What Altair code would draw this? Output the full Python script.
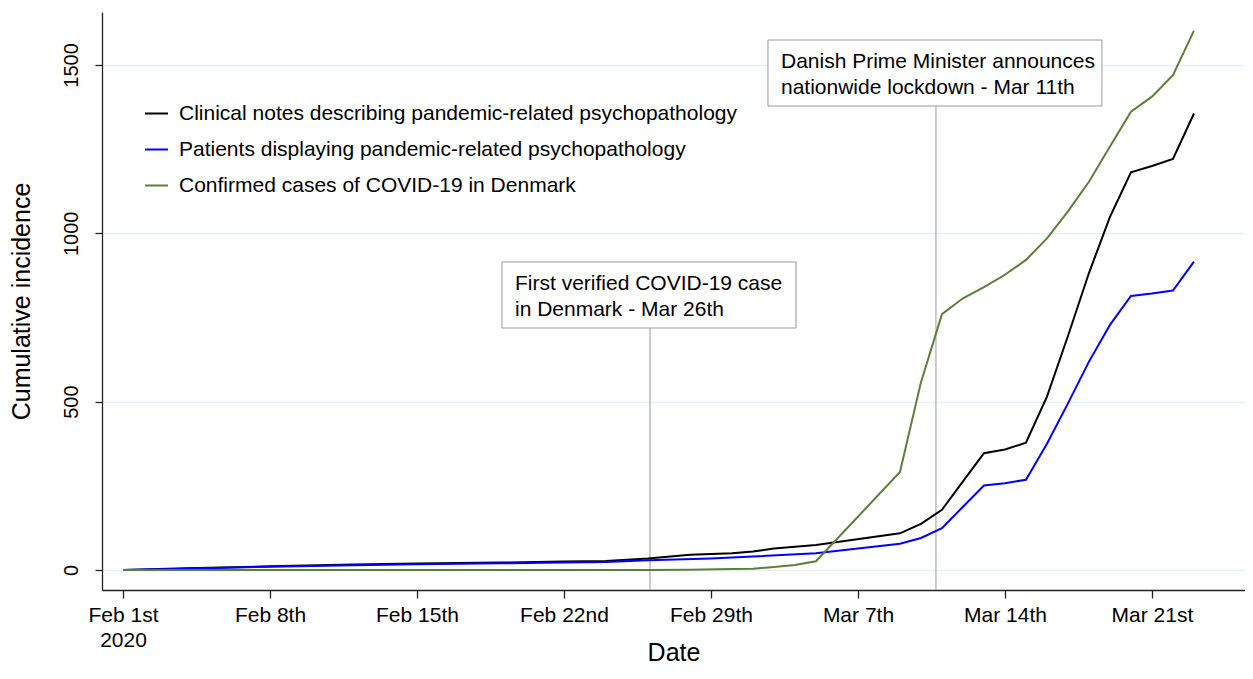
import altair as alt
import pandas as pd

FONT = "Liberation Sans"

series_names = [
    "Clinical notes describing pandemic-related psychopathology",
    "Patients displaying pandemic-related psychopathology",
    "Confirmed cases of COVID-19 in Denmark",
]
series_colors = ["#000000", "#0000ff", "#5b7e3c"]

clinical_dates = ["2020-02-01", "2020-02-04", "2020-02-08", "2020-02-12", "2020-02-15",
                  "2020-02-19", "2020-02-22", "2020-02-24", "2020-02-26", "2020-02-28",
                  "2020-03-01", "2020-03-02", "2020-03-03", "2020-03-05", "2020-03-09",
                  "2020-03-10", "2020-03-11", "2020-03-12", "2020-03-13", "2020-03-14",
                  "2020-03-15", "2020-03-16", "2020-03-17", "2020-03-18", "2020-03-19",
                  "2020-03-20", "2020-03-21", "2020-03-22", "2020-03-23"]
clinical_values = [0, 5, 11, 16, 19, 22, 25, 27, 34, 45,
                   50, 55, 64, 74, 109, 137, 179, 263, 347, 358,
                   378, 515, 695, 882, 1049, 1181, 1200, 1221, 1356]

patients_dates = ["2020-02-01", "2020-02-04", "2020-02-08", "2020-02-12", "2020-02-15",
                  "2020-02-19", "2020-02-22", "2020-02-24", "2020-02-26", "2020-02-29",
                  "2020-03-02", "2020-03-05", "2020-03-09", "2020-03-10", "2020-03-11",
                  "2020-03-12", "2020-03-13", "2020-03-14", "2020-03-15", "2020-03-16",
                  "2020-03-17", "2020-03-18", "2020-03-19", "2020-03-20", "2020-03-21",
                  "2020-03-22", "2020-03-23"]
patients_values = [0, 4, 10, 14, 17, 20, 22, 24, 29, 34,
                   40, 50, 78, 95, 124, 188, 251, 258, 268, 375,
                   495, 619, 728, 814, 821, 830, 916]

cases_dates = ["2020-02-01", "2020-02-26", "2020-02-28", "2020-03-01", "2020-03-02",
               "2020-03-03", "2020-03-04", "2020-03-05", "2020-03-09", "2020-03-10",
               "2020-03-11", "2020-03-12", "2020-03-13", "2020-03-14", "2020-03-15",
               "2020-03-16", "2020-03-17", "2020-03-18", "2020-03-19", "2020-03-20",
               "2020-03-21", "2020-03-22", "2020-03-23"]
cases_values = [0, 0, 1, 3, 4, 9, 15, 26, 291, 558,
                760, 807, 840, 877, 921, 985, 1065, 1153, 1258, 1361,
                1406, 1470, 1602]

tick_dates = ["2020-02-01", "2020-02-08", "2020-02-15", "2020-02-22",
              "2020-02-29", "2020-03-07", "2020-03-14", "2020-03-21"]
tick_labels = [["Feb 1st", "2020"], "Feb 8th", "Feb 15th", "Feb 22nd",
               "Feb 29th", "Mar 7th", "Mar 14th", "Mar 21st"]
y_ticks = [0, 500, 1000, 1500]

# annotations (anchored in data space)
annot_text = ["First verified COVID-19 case\nin Denmark - Mar 26th",
              "Danish Prime Minister announces\nnationwide lockdown - Mar 11th"]
annot_rule_date = ["2020-02-26T02:17:00Z", "2020-03-10T17:08:00Z"]
annot_box_left = ["2020-02-19T01:09:00Z", "2020-03-02T17:09:00Z"]
annot_box_right = ["2020-03-04T01:09:00Z", "2020-03-18T14:51:00Z"]
annot_box_top = [914.8, 1574.2]
annot_box_bottom = [718.8, 1378.2]

rows = []
for name, ds, vs in zip(series_names,
                        [clinical_dates, patients_dates, cases_dates],
                        [clinical_values, patients_values, cases_values]):
    for d, v in zip(ds, vs):
        rows.append({"date": d, "value": v, "series": name})
df = pd.DataFrame(rows)

annot = pd.DataFrame({
    "text": annot_text, "rx": annot_rule_date, "x1": annot_box_left,
    "x2": annot_box_right, "top": annot_box_top, "bottom": annot_box_bottom,
})


def dt(s):
    y, m, d = [int(p) for p in s.split("-")]
    return alt.DateTime(year=y, month=m, date=d, utc=True)


def lab(l):
    if isinstance(l, list):
        return "[" + ", ".join("'" + p + "'" for p in l) + "]"
    return "'" + l + "'"


label_expr = ""
for d, l in zip(tick_dates, tick_labels):
    label_expr += "utcFormat(datum.value, '%Y-%m-%d') == '" + d + "' ? " + lab(l) + " : "
label_expr += "''"

x_scale = alt.Scale(type="utc", domain=[
    alt.DateTime(year=2020, month=1, date=31, utc=True),
    alt.DateTime(year=2020, month=3, date=25, hours=10, minutes=20, utc=True),
])
y_scale = alt.Scale(domain=[-59.4, 1657.4], nice=False, zero=False)

x_axis = alt.Axis(values=[dt(d) for d in tick_dates], labelExpr=label_expr,
                  grid=False, labelFontSize=21, labelLineHeight=25, labelPadding=6,
                  tickSize=8, labelFlush=False, labelOverlap=False,
                  titleFontSize=25, titleBaseline="alphabetic", titleY=70)
y_axis = alt.Axis(values=y_ticks, format="d", labelAngle=270, labelAlign="center",
                  labelBaseline="bottom", labelFontSize=20, labelPadding=14,
                  tickSize=7, grid=True, gridColor="#e6eff1", gridWidth=1.5,
                  titleFontSize=25, titlePadding=27)

lines = alt.Chart(df).mark_line(strokeWidth=2).encode(
    x=alt.X("date:T", scale=x_scale, axis=x_axis, title="Date"),
    y=alt.Y("value:Q", scale=y_scale, axis=y_axis, title="Cumulative incidence"),
    color=alt.Color("series:N", sort=series_names,
                    scale=alt.Scale(domain=series_names, range=series_colors),
                    legend=alt.Legend(orient="none", legendX=42, legendY=89,
                                      title=None, symbolType="stroke",
                                      symbolSize=529, symbolStrokeWidth=2,
                                      labelFontSize=21, labelLimit=1000,
                                      rowPadding=13, labelOffset=10, padding=0)),
)

rules = alt.Chart(annot).mark_rule(color="#9a9a9a", strokeWidth=1).encode(
    x=alt.X("rx:T", title="Date"),
    y=alt.Y("bottom:Q", title="Cumulative incidence"),
    y2=alt.value(578),
)

boxes = alt.Chart(annot).mark_rect(fill="white", stroke="#9a9a9a", strokeWidth=1).encode(
    x=alt.X("x1:T", title="Date"), x2="x2:T",
    y=alt.Y("top:Q", title="Cumulative incidence"), y2="bottom:Q",
)

texts = alt.Chart(annot).mark_text(align="left", baseline="top", dx=13, dy=11,
                                   fontSize=21, lineHeight=26, lineBreak="\n",
                                   color="black").encode(
    x=alt.X("x1:T", title="Date"),
    y=alt.Y("top:Q", title="Cumulative incidence"),
    text="text:N",
)

chart = alt.layer(rules, lines, boxes, texts).properties(
    width=1143, height=578,
    autosize=alt.AutoSizeParams(type="none"),
    padding={"left": 94, "top": 4, "right": 0, "bottom": 76},
).configure(font=FONT).configure_view(stroke=None).configure_axis(
    domainColor="#222222", domainWidth=1.3, tickColor="#222222", tickWidth=1.3,
    labelColor="black", titleColor="black", titleFontWeight="normal",
    labelFont=FONT, titleFont=FONT,
).configure_legend(labelFont=FONT, labelColor="black")

chart.save("out.html", embed_options={"renderer": "svg", "actions": False})
